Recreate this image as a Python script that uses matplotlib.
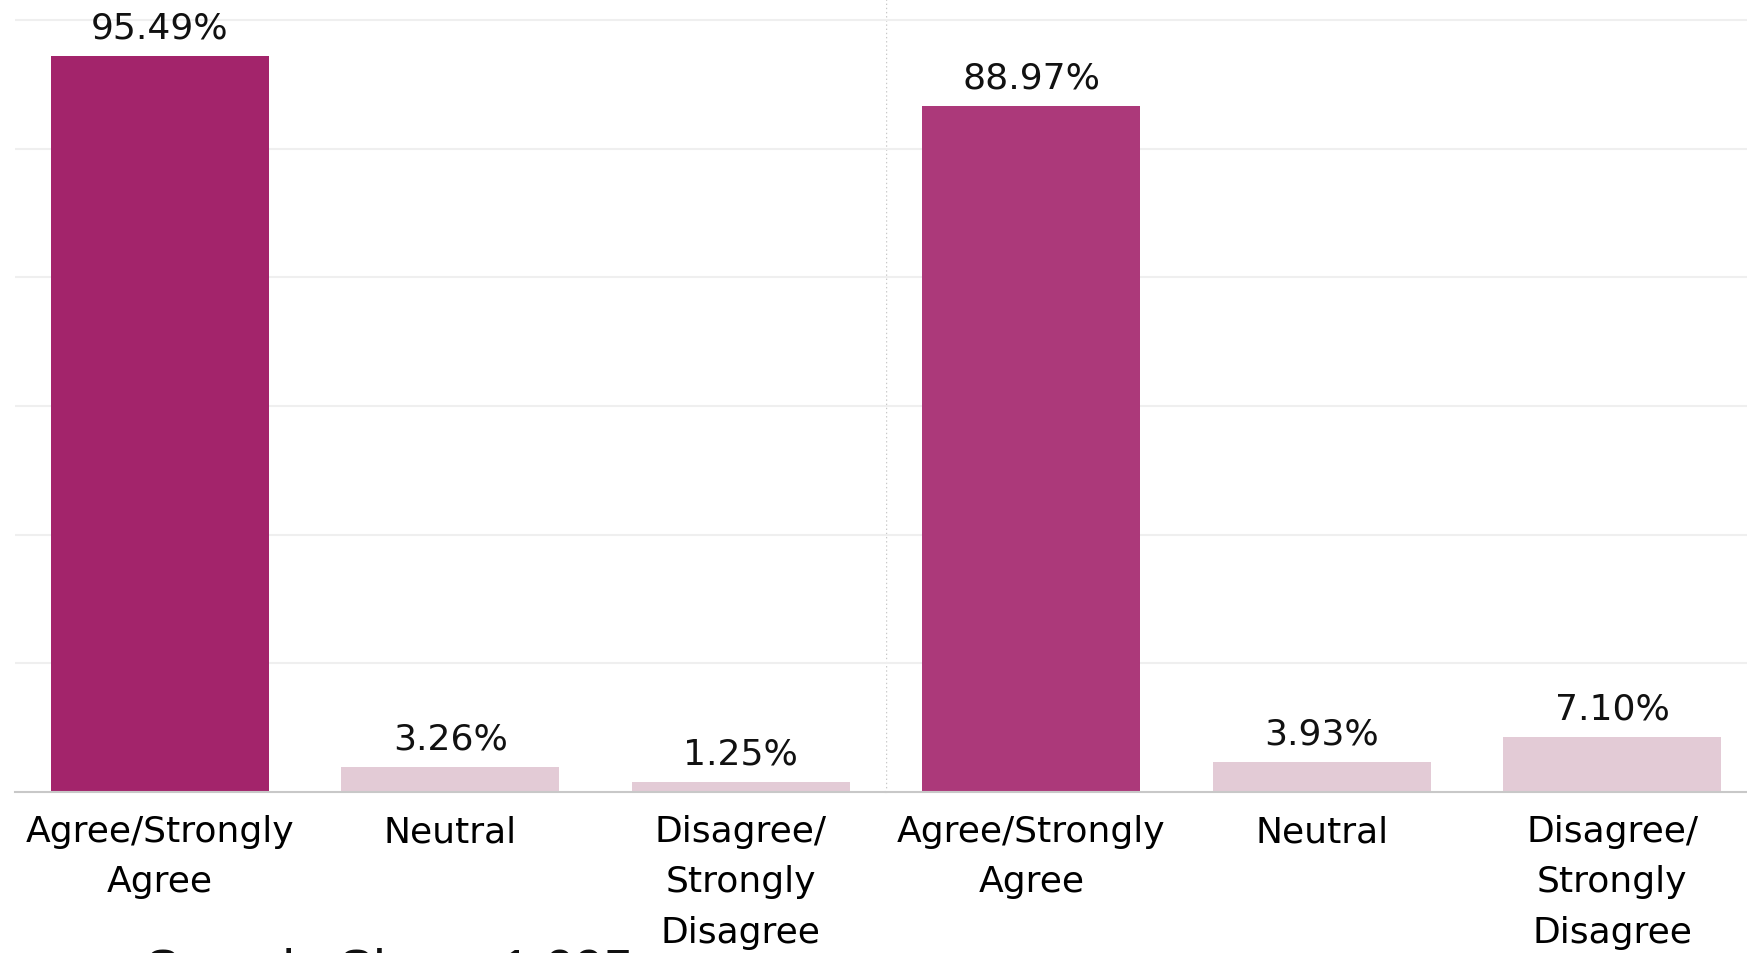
import matplotlib.pyplot as plt

categories = ["Agree/Strongly\nAgree", "Neutral", "Disagree/\nStrongly\nDisagree"]
left_values = [95.49, 3.26, 1.25]
right_values = [88.97, 3.93, 7.10]
left_colors = ["#A3246B", "#E3CBD6", "#E3CBD6"]
right_colors = ["#AC397A", "#E3CBD6", "#E3CBD6"]
grid_step = 16.7
footnote = "Sample Size = 1,095"

plt.rcParams["font.family"] = ["DejaVu Sans"]

W, H = 1747, 954
fig = plt.figure(figsize=(W / 100, H / 100), dpi=100)

bottom = 1 - 793 / H
height = 793 / H
panel_w = 871.5 / W
lefts = [14.5 / W, 886 / W]

panels = [(left_values, left_colors), (right_values, right_colors)]
for i, (vals, cols) in enumerate(panels):
    ax = fig.add_axes([lefts[i], bottom, panel_w, height])
    x = list(range(len(categories)))
    ax.bar(x, vals, width=0.75, color=cols, zorder=2)
    for xi, v in zip(x, vals):
        ax.text(xi, v + 1.5, f"{v:.2f}%", ha="center", va="bottom",
                fontsize=26, color="#111111")
    ax.set_xlim(-0.5, 2.5)
    ax.set_ylim(0, 102.9)
    ax.set_yticks([grid_step * k for k in range(1, 7)])
    ax.yaxis.grid(True, color="#EFEFEF", linewidth=1.5, zorder=0)
    ax.tick_params(axis="y", left=False, labelleft=False)
    ax.set_xticks(x)
    ax.set_xticklabels(categories, fontsize=26, linespacing=1.6)
    ax.tick_params(axis="x", length=0, pad=16)
    for s in ["top", "right", "left"]:
        ax.spines[s].set_visible(False)
    ax.spines["bottom"].set_color("#C8C8C8")
    ax.spines["bottom"].set_linewidth(1.5)
    if i == 1:
        ax.axvline(-0.5, color="#C8C8C8", linestyle=(0, (1, 2)), linewidth=1.0, zorder=1)

# footnote sits mostly below the canvas, as in the source export
fig.text(145 / W, 1 - 948 / H, footnote, ha="left", va="top",
         fontsize=38, family="Liberation Sans", color="#111111")

fig.savefig("out.png", dpi=100)
